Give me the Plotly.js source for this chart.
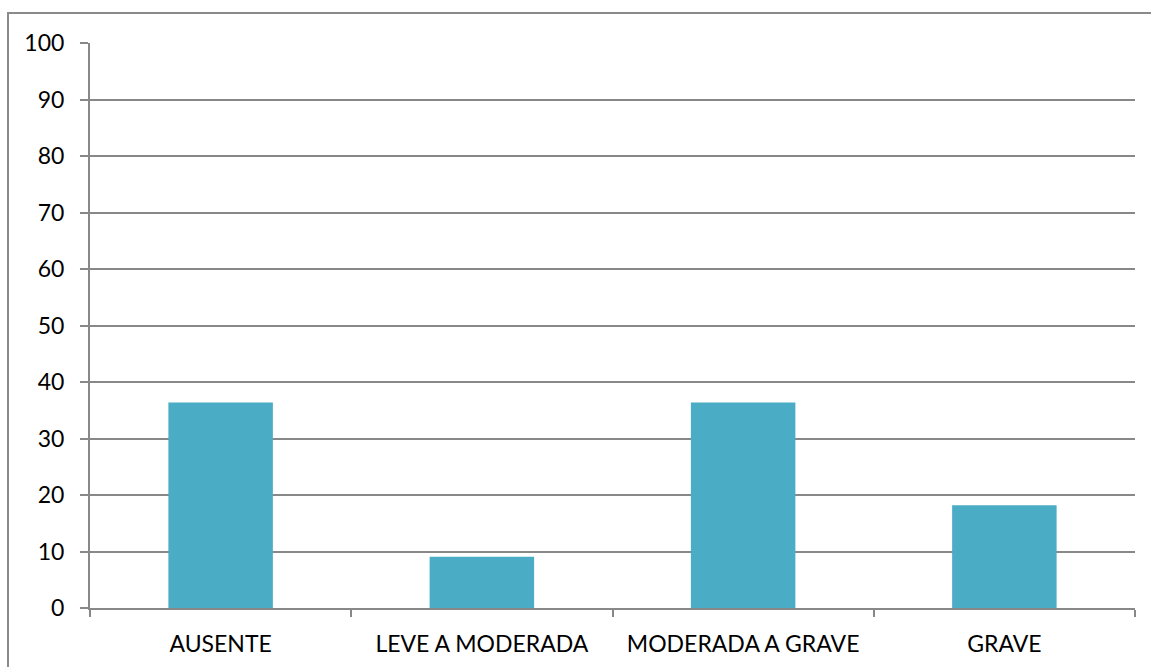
<!DOCTYPE html>
<html>
<head>
<meta charset="utf-8">
<script src="https://cdn.plot.ly/plotly-3.0.1.min.js"></script>
<style>
  html, body { margin: 0; padding: 0; background: #fff; }
  #frame {
    position: absolute; left: 7px; top: 12px; width: 1200px; height: 700px;
    border-left: 2px solid #8a8a8a; border-top: 2px solid #8a8a8a;
  }
  #chart { position: absolute; left: 0; top: 0; width: 1151px; height: 667px; }
</style>
</head>
<body>
<div id="frame"></div>
<div id="chart"></div>
<script>
// Severity categories and their percentages
const categories = ["AUSENTE", "LEVE A MODERADA", "MODERADA A GRAVE", "GRAVE"];
const percentages = [36.36, 9.09, 36.36, 18.18];
const yTickValues = [0, 10, 20, 30, 40, 50, 60, 70, 80, 90, 100];

const barColor = "#4BACC6";
const lineGray = "#888888";
const fontFamily = "Lato, 'Open Sans', sans-serif";

const trace = {
  type: "bar",
  x: categories,
  y: percentages,
  marker: { color: barColor, line: { width: 0 } },
  hoverinfo: "x+y"
};

const layout = {
  width: 1151,
  height: 667,
  margin: { l: 90, r: 16, t: 43, b: 59, pad: 0 },
  paper_bgcolor: "rgba(0,0,0,0)",
  plot_bgcolor: "rgba(0,0,0,0)",
  bargap: 0.6,
  showlegend: false,
  font: { family: fontFamily, size: 23, color: "#000" },
  xaxis: {
    type: "category",
    showgrid: false,
    showline: true,
    linecolor: lineGray,
    linewidth: 2,
    ticks: "outside",
    tickson: "boundaries",
    ticklen: 7,
    tickwidth: 2,
    tickcolor: lineGray,
    tickfont: { family: fontFamily, size: 23, color: "#000" },
    ticklabelstandoff: 14,
    zeroline: false,
    fixedrange: true
  },
  yaxis: {
    range: [0, 100],
    tickvals: yTickValues,
    ticktext: yTickValues.map(String),
    showgrid: true,
    gridcolor: lineGray,
    gridwidth: 2,
    showline: true,
    linecolor: lineGray,
    linewidth: 2,
    ticks: "outside",
    ticklen: 8,
    tickwidth: 2,
    tickcolor: lineGray,
    tickfont: { family: fontFamily, size: 23, color: "#000" },
    ticklabelstandoff: 11,
    zeroline: false,
    fixedrange: true
  }
};

Plotly.newPlot("chart", [trace], layout, { displayModeBar: false, staticPlot: true });
</script>
</body>
</html>
